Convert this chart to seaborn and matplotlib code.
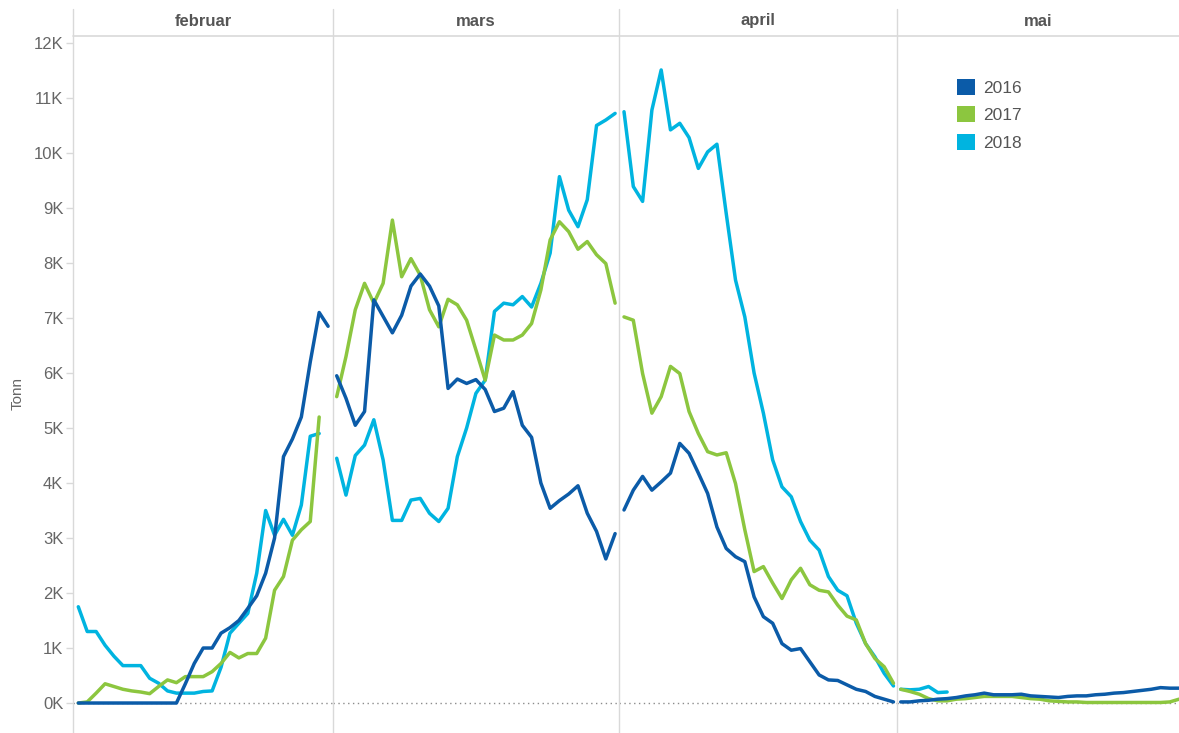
import matplotlib
matplotlib.use("Agg")
import matplotlib.pyplot as plt
import seaborn as sns
import pandas as pd
from matplotlib.lines import Line2D
from matplotlib.patches import Patch

# ---- data (tonn per day) ----
months = ["februar", "mars", "april", "mai"]
years = ["2016", "2017", "2018"]
colors = ["#0b5ba8", "#8cc63f", "#00b4e0"]

feb_2016 = [0, 0, 0, 0, 0, 0, 0, 0, 0, 0, 0, 0, 350, 720, 1000, 1000, 1270, 1370,
            1500, 1720, 1950, 2360, 3000, 4480, 4800, 5200, 6200, 7100, 6850]
feb_2017 = [0, 20, 180, 350, 300, 250, 220, 200, 170, 300, 420, 370, 480, 480, 480,
            570, 720, 920, 820, 900, 900, 1180, 2050, 2300, 2960, 3150, 3300, 5200]
feb_2018 = [1750, 1300, 1300, 1050, 850, 680, 680, 680, 450, 360, 220, 180, 180, 180,
            210, 220, 650, 1270, 1450, 1630, 2360, 3500, 3050, 3340, 3050, 3600, 4850, 4900]

mar_2016 = [5950, 5540, 5050, 5300, 7330, 7030, 6730, 7050, 7580, 7800, 7580, 7220,
            5720, 5890, 5810, 5880, 5700, 5300, 5360, 5660, 5050, 4830, 4000, 3540,
            3680, 3800, 3950, 3450, 3120, 2620, 3080]
mar_2017 = [5570, 6300, 7150, 7630, 7270, 7630, 8780, 7750, 8080, 7780, 7150, 6840,
            7340, 7240, 6960, 6420, 5870, 6690, 6600, 6600, 6690, 6900, 7510, 8420,
            8750, 8570, 8250, 8390, 8150, 7990, 7270]
mar_2018 = [4450, 3780, 4500, 4690, 5150, 4420, 3320, 3320, 3690, 3720, 3450, 3300,
            3540, 4480, 5000, 5630, 5870, 7120, 7270, 7240, 7390, 7200, 7630, 8180,
            9570, 8960, 8660, 9150, 10500, 10600, 10720]

apr_2016 = [3510, 3870, 4120, 3870, 4020, 4180, 4720, 4540, 4180, 3810, 3200, 2810,
            2660, 2570, 1930, 1570, 1450, 1080, 960, 990, 750, 510, 420, 410, 330,
            250, 210, 120, 70, 20]
apr_2017 = [7020, 6960, 5990, 5270, 5570, 6120, 5990, 5300, 4900, 4570, 4510, 4550,
            3990, 3150, 2390, 2480, 2180, 1900, 2240, 2450, 2150, 2050, 2020, 1780,
            1580, 1510, 1080, 810, 660, 360]
apr_2018 = [10750, 9390, 9120, 10780, 11510, 10420, 10540, 10280, 9720, 10020, 10160,
            8900, 7690, 7020, 6000, 5270, 4420, 3930, 3750, 3300, 2960, 2780, 2300,
            2050, 1950, 1450, 1080, 840, 540, 310]

mai_2016 = [20, 20, 40, 50, 70, 80, 100, 130, 150, 180, 150, 150, 150, 160, 130, 120,
            110, 100, 120, 130, 130, 150, 160, 180, 190, 210, 230, 250, 280, 270, 270]
mai_2017 = [250, 210, 160, 80, 40, 40, 70, 80, 100, 120, 120, 120, 120, 100, 80, 70,
            40, 30, 20, 20, 10, 10, 10, 10, 10, 10, 10, 10, 10, 20, 70]
mai_2018 = [250, 240, 250, 300, 190, 200]

series = {
    ("februar", "2016"): feb_2016, ("februar", "2017"): feb_2017, ("februar", "2018"): feb_2018,
    ("mars", "2016"): mar_2016, ("mars", "2017"): mar_2017, ("mars", "2018"): mar_2018,
    ("april", "2016"): apr_2016, ("april", "2017"): apr_2017, ("april", "2018"): apr_2018,
    ("mai", "2016"): mai_2016, ("mai", "2017"): mai_2017, ("mai", "2018"): mai_2018,
}
rows = []
for (m, y), vals in series.items():
    for d, v in enumerate(vals, start=1):
        rows.append({"måned": m, "år": y, "dag": d, "tonn": v})
df = pd.DataFrame(rows)

# ---- style ----
sns.set_theme(style="white")
plt.rcParams["font.family"] = ["Liberation Sans", "DejaVu Sans"]

W, H = 1179, 733
fig = plt.figure(figsize=(W / 100, H / 100), dpi=100)
gs = fig.add_gridspec(1, 4, width_ratios=[260, 286, 278, 282],
                      left=73 / W, right=1.0, bottom=0.0, top=1 - 36 / H, wspace=0)
xlims = [(0.406, 29.55), (0.6, 31.42), (0.46, 30.38), (0.6, 30.99)]
palette = dict(zip(years, colors))
grid_col = "#d9d9d9"
text_col = "#666666"

axes = []
for i, m in enumerate(months):
    ax = fig.add_subplot(gs[0, i])
    axes.append(ax)
    ax.axhline(0, color="#8c8c8c", lw=1.0, ls=(0, (1, 2.5)), zorder=0)
    sub = df[df["måned"] == m]
    sns.lineplot(data=sub, x="dag", y="tonn", hue="år", hue_order=["2018", "2017", "2016"],
                 palette=palette, linewidth=2.5, legend=False, ax=ax, estimator=None,
                 solid_joinstyle="round", solid_capstyle="round")
    ax.set_xlim(*xlims[i])
    ax.set_ylim(-545, 12127)
    ax.set_xlabel("")
    ax.set_ylabel("")
    ax.set_xticks([])
    for s in ax.spines.values():
        s.set_visible(False)
    if i == 0:
        ax.set_yticks(range(0, 12001, 1000))
        ax.set_yticklabels([f"{v // 1000}K" for v in range(0, 12001, 1000)])
        ax.tick_params(axis="y", left=True, length=5, width=1, color=grid_col,
                       labelsize=12, labelcolor=text_col, pad=2)
    else:
        ax.set_yticks([])
    pos = ax.get_position()
    fig.text((pos.x0 + pos.x1) / 2, 1 - 21 / H, m, ha="center", va="center",
             fontsize=12, fontweight="bold", color="#555555")
    fig.add_artist(Line2D([pos.x0, pos.x0], [0, 1 - 9 / H], transform=fig.transFigure,
                          color=grid_col, lw=1.0))

fig.add_artist(Line2D([73 / W, 1.0], [1 - 36 / H, 1 - 36 / H], transform=fig.transFigure,
                      color=grid_col, lw=1.2))

fig.text(18 / W, 1 - 393 / H, "Tonn", rotation=90, ha="center", va="center",
         fontsize=11, color=text_col)

handles = [Patch(facecolor=c, edgecolor="none") for c in colors]
fig.legend(handles, years, loc="upper left", bbox_to_anchor=(957 / W, 1 - 79 / H),
           frameon=False, fontsize=12.5, labelcolor="#555555", handlelength=1.05,
           handleheight=1.05, handletextpad=0.45, labelspacing=0.6, borderpad=0,
           borderaxespad=0)

fig.savefig("out.png", dpi=100)
